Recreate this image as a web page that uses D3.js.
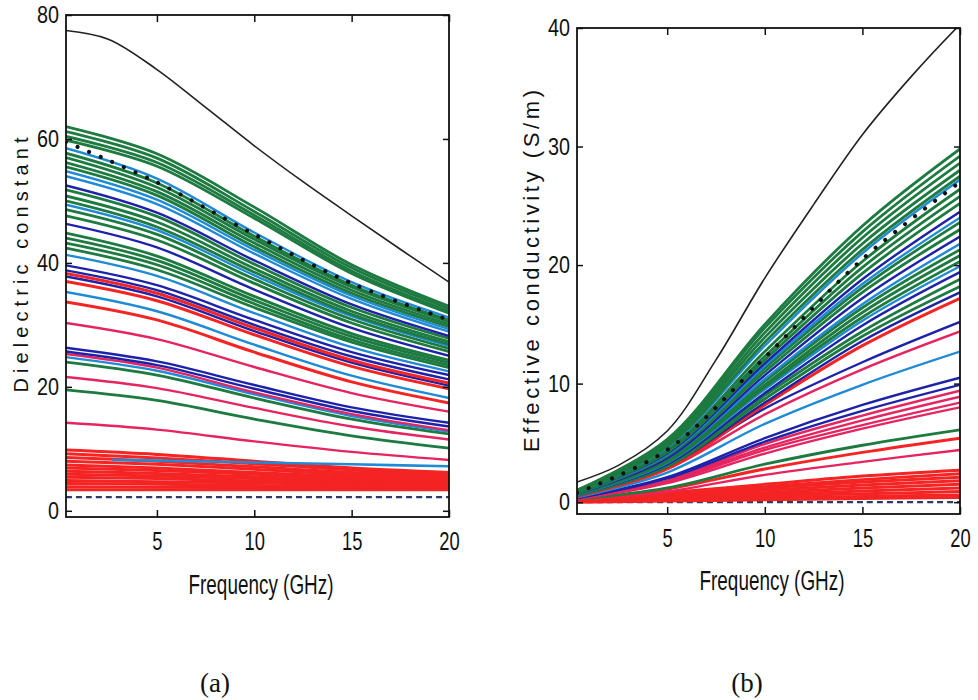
<!DOCTYPE html>
<html><head><meta charset="utf-8">
<script src="https://cdn.jsdelivr.net/npm/d3@7"></script>
<style>body{margin:0;background:#fff}</style></head>
<body><svg id="c" width="978" height="700"></svg>
<script>
// ---------------- DATA ----------------
// Panel (a): dielectric constant vs frequency
const freqA = [0.33, 5, 10, 15, 20];
const freqFineA = [0.33, 2.5, 5, 7.5, 10, 12.5, 15, 17.5, 20];
const blackA = [77.5, 76.1, 71.2, 65.1, 58.9, 53.1, 47.6, 42.2, 36.9];
const dottedA = [59.5, 53.0, 44.6, 36.7, 30.8];
const dashedA = [2.2, 2.2, 2.2, 2.2, 2.2];
const flatFreqA = [2.7, 5, 10, 15, 20];
const flatA = [8.2, 8.1, 7.8, 7.5, 7.2];
const groupsA = ["G","G","G","G","LB","G","G","G","G","LB","LB","DB","G","G","G","LB","G","G","DB","G","G","G","G","LB",
  "DB","DB","R","DB","R","LB","R","P","DB","DB","P","LB","G","P","G","P",
  "R","R","R","R","R","R","R","R","R","R","R","R","R"];
const valuesA = [
  [62.0,57.6,49.0,39.7,33.0],[61.2,56.9,48.3,39.2,32.6],[60.4,56.2,47.7,38.7,32.2],[59.8,55.6,47.2,38.3,31.9],
  [58.5,53.6,44.9,36.9,31.2],[57.7,52.9,44.3,36.4,30.8],[57.0,52.2,43.8,36.1,30.5],[56.2,51.5,43.2,35.6,30.1],
  [55.5,50.9,42.6,35.1,29.7],[54.8,50.2,42.1,34.7,29.3],[54.0,49.5,41.5,34.2,28.9],[52.5,48.1,40.4,33.3,28.2],
  [51.8,47.5,39.8,32.8,27.8],[50.8,46.6,39.1,32.2,27.3],[50.0,45.8,38.5,31.7,26.9],[49.4,45.3,38.0,31.4,26.6],
  [48.6,44.6,37.4,30.9,26.2],[47.6,43.7,36.7,30.3,25.7],[46.3,42.5,35.7,29.5,25.0],[44.8,41.1,34.6,28.6,24.3],
  [44.0,40.4,34.0,28.1,23.9],[43.2,39.7,33.4,27.6,23.5],[42.4,38.9,32.8,27.2,23.1],[41.3,37.9,31.9,26.4,22.5],
  [39.6,36.4,30.8,25.6,21.9],[38.8,35.6,30.0,24.9,21.2],[38.3,35.1,29.5,24.3,20.6],[37.8,34.6,29.0,23.9,20.2],
  [37.0,33.9,28.4,23.3,19.7],[35.3,32.2,26.8,21.8,18.2],[33.7,30.8,25.6,20.8,17.4],[30.3,27.7,23.2,19.0,16.0],
  [26.3,24.1,20.3,16.7,14.2],[25.7,23.5,19.7,16.1,13.6],[25.3,23.1,19.1,15.6,13.0],[24.8,22.6,18.8,15.3,12.8],
  [24.0,21.9,18.2,14.8,12.4],[21.6,19.8,16.6,13.6,11.5],[19.5,17.8,14.8,12.1,10.1],[14.2,13.1,11.2,9.5,8.2],
  [9.8,9.1,8.0,6.9,6.2],[9.2,8.5,7.6,6.6,5.9],[8.6,8.0,7.1,6.2,5.6],[8.0,7.5,6.7,5.8,5.3],[7.4,6.9,6.2,5.5,5.0],
  [6.9,6.5,5.9,5.2,4.8],[6.4,6.0,5.5,5.0,4.6],[5.9,5.6,5.2,4.7,4.4],[5.4,5.2,4.8,4.4,4.2],[4.9,4.7,4.5,4.2,4.0],
  [4.4,4.3,4.1,3.9,3.8],[3.9,3.8,3.75,3.65,3.6],[3.4,3.4,3.4,3.4,3.4]
];

// Panel (b): effective conductivity vs frequency
const freqB = [0.38, 5, 10, 15, 20];
const freqFineB = [0.38, 2.5, 5, 7.5, 10, 12.5, 15, 17.5, 20];
const blackB = [1.7, 3.1, 6.0, 12.0, 18.9, 25.1, 31.0, 35.9, 40.3];
const dottedB = [0.8, 4.4, 12.2, 20.5, 27.0];
const dashedB = [0, 0, 0, 0, 0];
const groupsB = ["G","G","G","G","G","LB","G","G","G","DB","LB","G","G","DB","LB","G","G","G","LB","DB","G","G","DB","R",
  "DB","P","LB","DB","DB","P","P","P","P","G","R","P",
  "R","R","R","R","R","R","R","R","R"];
const valuesB = [
  [1.0,5.3,15.0,23.3,29.8],[1.0,5.2,14.7,22.8,29.2],[0.95,5.0,14.3,22.3,28.6],[0.95,4.9,13.9,21.8,28.0],
  [0.9,4.7,13.5,21.3,27.5],[0.9,4.6,13.2,21.0,27.2],[0.85,4.4,12.7,20.3,26.4],[0.85,4.3,12.3,19.8,25.8],
  [0.8,4.2,12.0,19.3,25.2],[0.8,4.1,11.7,18.8,24.5],[0.8,4.0,11.5,18.4,24.0],[0.75,3.9,11.3,18.1,23.6],
  [0.75,3.9,11.0,17.7,23.0],[0.7,3.7,10.7,17.2,22.4],[0.7,3.7,10.4,16.7,21.8],[0.7,3.6,10.2,16.4,21.3],
  [0.65,3.5,9.9,16.0,20.8],[0.65,3.4,9.7,15.6,20.3],[0.6,3.3,9.5,15.3,19.9],[0.6,3.2,9.2,14.9,19.4],
  [0.6,3.1,9.0,14.4,18.8],[0.55,3.0,8.7,14.0,18.2],[0.55,3.0,8.4,13.6,17.7],[0.5,2.8,8.2,13.2,17.2],
  [0.5,3.0,7.9,11.8,15.2],[0.45,2.8,7.4,11.2,14.4],[0.4,2.5,6.6,9.9,12.7],[0.35,2.1,5.4,8.2,10.5],
  [0.35,2.0,5.1,7.7,9.9],[0.3,1.8,4.9,7.3,9.4],[0.3,1.8,4.6,6.9,8.9],[0.3,1.7,4.4,6.5,8.4],[0.25,1.6,4.1,6.2,8.0],
  [0.25,1.2,3.2,4.8,6.1],[0.2,1.1,2.8,4.2,5.4],[0.2,0.9,2.3,3.4,4.4],
  [0.3,0.8,1.5,2.2,2.7],[0.25,0.7,1.3,1.9,2.4],[0.2,0.6,1.2,1.7,2.1],[0.2,0.5,1.0,1.45,1.8],[0.15,0.4,0.8,1.2,1.5],
  [0.1,0.3,0.65,0.95,1.2],[0.1,0.25,0.5,0.7,0.9],[0.05,0.15,0.33,0.48,0.6],[0.0,0.1,0.2,0.3,0.4]
];

const xTicks = [5, 10, 15, 20];
const yTicksA = [0, 20, 40, 60, 80];
const yTicksB = [0, 10, 20, 30, 40];
const xLabel = "Frequency (GHz)";
const yLabelA = "Dielectric constant";
const yLabelB = "Effective conductivity (S/m)";
const panelLabels = ["(a)", "(b)"];

// ---------------- STYLE ----------------
const groupColor = {G:"#1d7a40", LB:"#1f8ad6", DB:"#1d22a8", R:"#f42424", P:"#e6245f"};
const groupWidth = {G:2.8, LB:2.4, DB:2.4, R:3.0, P:2.4};
const narrow = "'Liberation Sans Narrow','Arial Narrow','Liberation Sans',Arial,sans-serif";

const svg = d3.select("#c");
svg.append("rect").attr("width",978).attr("height",700).attr("fill","#fff");

function panel(o) {
  const x = d3.scaleLinear().domain(o.xDom).range([o.left, o.right]);
  const y = d3.scaleLinear().domain(o.yDom).range([o.bottom, o.top]);
  const g = svg.append("g");
  const clipId = "clip" + o.id;
  svg.append("clipPath").attr("id", clipId).append("rect")
    .attr("x", o.left).attr("y", o.top).attr("width", o.right - o.left).attr("height", o.bottom - o.top);
  const plot = g.append("g").attr("clip-path", `url(#${clipId})`);
  const mk = (freqs) => d3.line().defined(d => d != null)
      .x((d, i) => x(freqs[i])).y(d => y(d)).curve(d3.curveCatmullRom.alpha(0.5));

  plot.append("path").attr("d", mk(o.freq)(o.dashed)).attr("fill","none")
    .attr("stroke","#2c3b66").attr("stroke-width",2.2).attr("stroke-dasharray","6,4");
  const idx = d3.range(o.values.length).reverse();
  for (const i of idx) {
    const grp = o.groups[i];
    plot.append("path").attr("d", mk(o.freq)(o.values[i])).attr("fill","none")
      .attr("stroke", groupColor[grp]).attr("stroke-width", groupWidth[grp]);
  }
  if (o.flat) {
    plot.append("path").attr("d", mk(o.flatFreq)(o.flat)).attr("fill","none")
      .attr("stroke", groupColor.LB).attr("stroke-width", 2.6);
  }
  plot.append("path").attr("d", mk(o.freq)(o.dotted)).attr("fill","none")
    .attr("stroke","#111").attr("stroke-width",4).attr("stroke-linecap","round")
    .attr("stroke-dasharray","0.1,12.5");
  plot.append("path").attr("d", mk(o.freqFine)(o.black)).attr("fill","none")
    .attr("stroke","#222").attr("stroke-width",1.6);

  const ax = g.append("g").attr("font-family", narrow);
  const bottomAx = ax.append("g").attr("transform", `translate(0,${o.bottom})`)
    .call(d3.axisBottom(x).tickValues(xTicks).tickSize(-7).tickPadding(15).tickFormat(d3.format("d")));
  ax.append("g").attr("transform", `translate(0,${o.top})`)
    .call(d3.axisTop(x).tickValues(xTicks).tickSize(-7).tickFormat(""));
  const leftAx = ax.append("g").attr("transform", `translate(${o.left},0)`)
    .call(d3.axisLeft(y).tickValues(o.yTicks).tickSize(-6).tickPadding(7).tickFormat(d3.format("d")));
  ax.append("g").attr("transform", `translate(${o.right},0)`)
    .call(d3.axisRight(y).tickValues(o.yTicks).tickSize(-6).tickFormat(""));
  ax.selectAll(".domain").remove();
  ax.selectAll(".tick line").attr("stroke","#111").attr("stroke-width",1.5);
  bottomAx.selectAll("text").attr("font-size", 25).attr("fill","#111")
    .attr("textLength", d => String(d).length * 10.2).attr("lengthAdjust","spacingAndGlyphs");
  leftAx.selectAll("text").attr("font-size", 24).attr("fill","#111")
    .attr("textLength", d => String(d).length * 11).attr("lengthAdjust","spacingAndGlyphs");
  g.append("rect").attr("x", o.left).attr("y", o.top).attr("width", o.right - o.left)
    .attr("height", o.bottom - o.top).attr("fill","none").attr("stroke","#111").attr("stroke-width",1.8);

  g.append("text").attr("x", o.xLabX).attr("y", o.xLabY).attr("text-anchor","middle")
    .attr("font-family", narrow).attr("font-size", 27).attr("fill","#111")
    .attr("textLength", 145).attr("lengthAdjust","spacingAndGlyphs").text(xLabel);
  g.append("text").attr("transform", `translate(${o.yLabX},${o.yLabY}) rotate(-90)`).attr("text-anchor","middle")
    .attr("font-family","'Liberation Sans',Arial,sans-serif").attr("font-size", o.yLabSize).attr("fill","#111")
    .attr("textLength", o.yLabLen).attr("lengthAdjust","spacing").text(o.yLabel);
  g.append("text").attr("x", o.pLabX).attr("y", 692).attr("text-anchor","middle")
    .attr("font-family","'Liberation Serif','Times New Roman',serif").attr("font-size", 27).attr("fill","#111")
    .text(o.pLabel);
}

panel({id:"a", left:66, right:449, top:15, bottom:517, xDom:[0.33,20], yDom:[-1,80], yTicks:yTicksA,
  freq:freqA, freqFine:freqFineA, black:blackA, dotted:dottedA, dashed:dashedA, groups:groupsA, values:valuesA,
  flat:flatA, flatFreq:flatFreqA,
  xLabX:261, xLabY:594, yLabX:28, yLabY:265, yLabSize:20, yLabLen:255, yLabel:yLabelA,
  pLabX:215, pLabel:panelLabels[0]});
panel({id:"b", left:577, right:960, top:28, bottom:514, xDom:[0.38,20], yDom:[-1,40], yTicks:yTicksB,
  freq:freqB, freqFine:freqFineB, black:blackB, dotted:dottedB, dashed:dashedB, groups:groupsB, values:valuesB,
  xLabX:772, xLabY:590, yLabX:539, yLabY:271, yLabSize:22, yLabLen:362, yLabel:yLabelB,
  pLabX:747, pLabel:panelLabels[1]});
</script>
</body></html>
